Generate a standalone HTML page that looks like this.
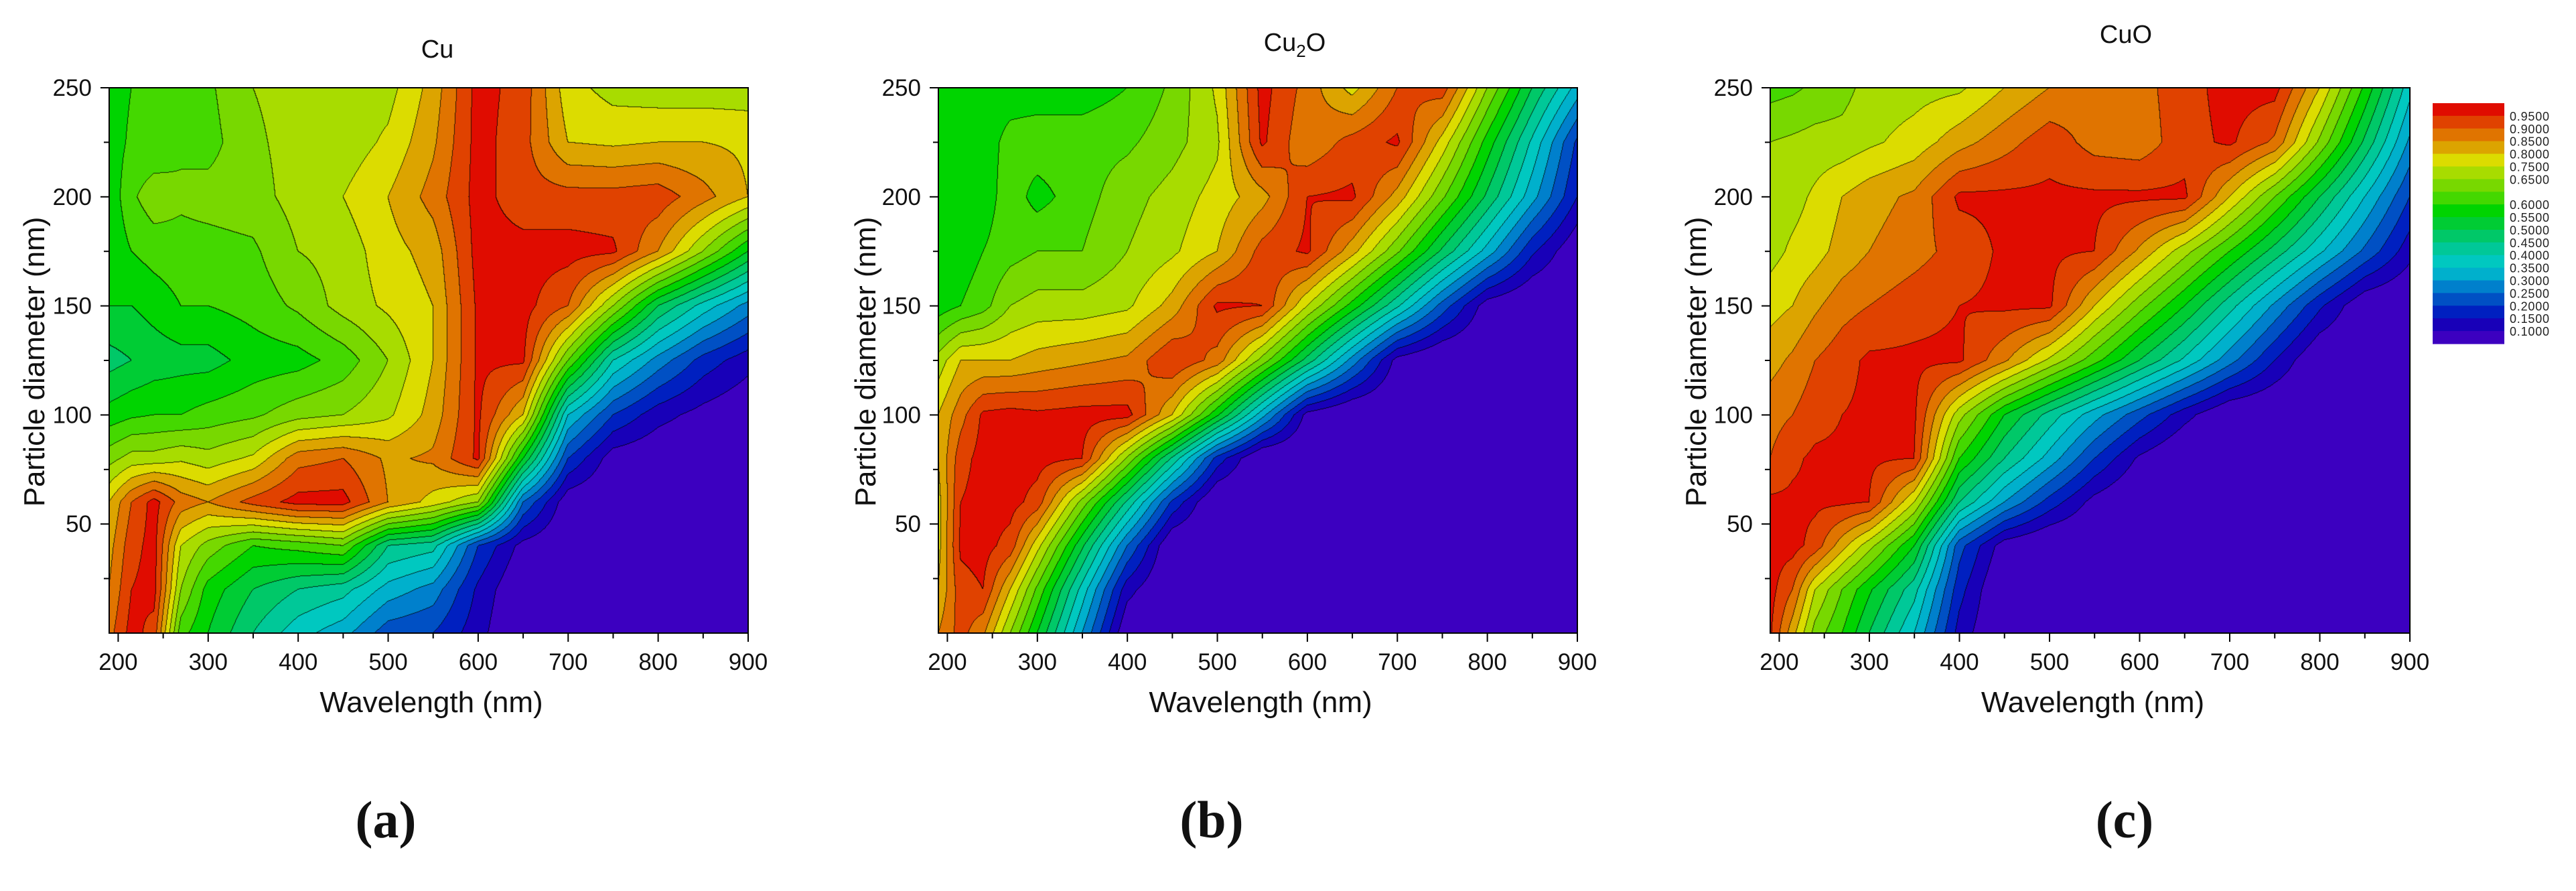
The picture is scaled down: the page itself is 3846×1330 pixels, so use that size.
<!DOCTYPE html>
<html><head><meta charset="utf-8"><style>
html,body{margin:0;padding:0;background:#fff;}
body{width:3846px;height:1330px;position:relative;overflow:hidden;font-family:"Liberation Sans",sans-serif;}
canvas{position:absolute;}
svg{position:absolute;left:0;top:0;}
</style></head><body>
<div id="root"></div>
<svg id="ov" width="3846" height="1330"></svg>
<script>
const WAVELENGTHS=[190,215,240,270,300,350,400,450,500,550,600,650,700,750,800,850,900];
const DIAMETERS=[250,225,200,175,150,125,100,80,60,40,20,0];
const LEVEL_LABELS=["0.9500","0.9000","0.8500","0.8000","0.7500","0.6500","","0.6000","0.5500","0.5000","0.4500","0.4000","0.3500","0.3000","0.2500","0.2000","0.1500","0.1000"];
const X_TICKS=[200,300,400,500,600,700,800,900];
const Y_TICKS=[50,100,150,200,250];
const CU_VALUES=[
[.57,.60,.62,.63,.64,.70,.72,.72,.73,.82,.97,.93,.77,.73,.72,.72,.72],
[.57,.61,.61,.64,.63,.69,.72,.72,.76,.84,.97,.92,.80,.79,.80,.80,.79],
[.56,.64,.68,.66,.67,.68,.72,.75,.80,.87,.97,.92,.92,.92,.93,.87,.80],
[.56,.60,.62,.63,.63,.64,.70,.72,.78,.82,.97,.97,.97,.96,.85,.70,.55],
[.55,.55,.57,.60,.60,.62,.66,.72,.76,.80,.96,.97,.90,.70,.50,.38,.28],
[.48,.50,.52,.53,.53,.57,.58,.62,.70,.80,.96,.96,.65,.40,.28,.18,.12],
[.57,.59,.60,.60,.62,.64,.68,.70,.74,.82,.96,.80,.35,.20,.12,.08,.05],
[.68,.72,.72,.74,.72,.76,.88,.90,.84,.86,.96,.55,.20,.07,.05,.04,.03],
[.80,.90,.97,.88,.85,.92,.97,.97,.85,.78,.70,.25,.06,.04,.03,.03,.03],
[.83,.93,.97,.75,.68,.60,.62,.65,.45,.42,.20,.08,.04,.03,.03,.03,.03],
[.85,.95,.97,.70,.58,.50,.45,.42,.33,.28,.14,.04,.03,.03,.03,.03,.03],
[.88,.97,.93,.62,.55,.45,.37,.32,.22,.20,.12,.03,.03,.03,.03,.03,.03]];
const CU2O_VALUES=[
[.56,.56,.57,.57,.57,.57,.60,.66,.76,.97,.88,.78,.90,.93,.70,.50,.33],
[.56,.57,.57,.62,.63,.63,.64,.68,.74,.96,.86,.92,.96,.78,.58,.39,.19],
[.57,.57,.57,.63,.58,.63,.68,.72,.77,.83,.95,.96,.83,.66,.49,.32,.15],
[.57,.57,.60,.63,.65,.65,.70,.74,.80,.92,.96,.82,.66,.49,.33,.16,.05],
[.57,.60,.63,.70,.72,.72,.74,.82,.96,.95,.75,.58,.41,.23,.07,.03,.03],
[.72,.80,.80,.80,.82,.84,.86,.95,.88,.68,.48,.28,.08,.03,.03,.03,.03],
[.80,.88,.96,.97,.96,.97,.97,.80,.56,.32,.08,.03,.03,.03,.03,.03,.03],
[.80,.93,.97,.97,.97,.95,.69,.44,.18,.03,.03,.03,.03,.03,.03,.03,.03],
[.78,.95,.97,.97,.93,.68,.44,.19,.03,.03,.03,.03,.03,.03,.03,.03,.03],
[.78,.96,.97,.93,.77,.51,.25,.04,.03,.03,.03,.03,.03,.03,.03,.03,.03],
[.80,.93,.95,.80,.64,.38,.12,.03,.03,.03,.03,.03,.03,.03,.03,.03,.03],
[.85,.92,.86,.70,.55,.30,.05,.03,.03,.03,.03,.03,.03,.03,.03,.03,.03]];
const CUO_VALUES=[
[.63,.64,.66,.68,.72,.73,.74,.80,.85,.88,.88,.93,.97,.97,.80,.59,.37],
[.70,.71,.72,.72,.74,.77,.83,.88,.93,.88,.87,.93,.96,.89,.69,.49,.29],
[.72,.73,.76,.80,.83,.86,.96,.96,.96,.96,.96,.96,.80,.65,.50,.35,.20],
[.73,.76,.78,.82,.85,.88,.92,.96,.96,.95,.84,.72,.60,.48,.36,.24,.12],
[.78,.80,.84,.88,.90,.93,.95,.96,.96,.80,.67,.55,.42,.29,.16,.05,.03],
[.83,.86,.90,.93,.96,.96,.96,.86,.74,.62,.50,.39,.27,.15,.04,.03,.03],
[.88,.90,.93,.95,.96,.96,.72,.55,.43,.32,.22,.12,.04,.03,.03,.03,.03],
[.90,.94,.96,.96,.96,.95,.60,.45,.33,.20,.09,.03,.03,.03,.03,.03,.03],
[.96,.96,.96,.96,.95,.75,.45,.30,.18,.08,.03,.03,.03,.03,.03,.03,.03],
[.97,.97,.93,.82,.72,.55,.22,.07,.03,.03,.03,.03,.03,.03,.03,.03,.03],
[.97,.90,.75,.65,.56,.42,.17,.03,.03,.03,.03,.03,.03,.03,.03,.03,.03],
[.96,.82,.68,.60,.50,.35,.13,.03,.03,.03,.03,.03,.03,.03,.03,.03,.03]];
// band colours, lowest (<0.10) to highest (>0.95)
const BAND_COLORS=["#3c00c0","#1800b8","#0020c0","#0050c4","#0080cc","#00b0cc","#00c8c0","#00c898","#00c868","#00cc34","#00d400","#44d800","#78d800","#a8dc00","#dcdc00","#dca400","#e07400","#e04200","#e00c00"];

const PANELS=[
 {name:"cu",values:CU_VALUES,left:163,width:954,title:"Cu",tx:653,ty:72,label:"(a)",lx:576,ytx:51},
 {name:"cu2o",values:CU2O_VALUES,left:1401,width:954,title:"Cu2O",tx:1933,ty:62,label:"(b)",lx:1809,ytx:1292},
 {name:"cuo",values:CUO_VALUES,left:2643,width:955,title:"CuO",tx:3174,ty:50,label:"(c)",lx:3172,ytx:2532}
];
const TOP=131,H=814,XMIN=190,XMAX=900,YMIN=0,YMAX=250;
const NS="http://www.w3.org/2000/svg";
const ov=document.getElementById('ov');
function hex(c){return [parseInt(c.substr(1,2),16),parseInt(c.substr(3,2),16),parseInt(c.substr(5,2),16)];}
const RGB=BAND_COLORS.map(hex);
function bandOf(v){if(v<0.1)return 0;let b=Math.floor((v-0.1)/0.05+1e-9)+1;return Math.min(18,b);}
function interp(vals,lam,d){
 let i=0;while(i<WAVELENGTHS.length-2&&lam>WAVELENGTHS[i+1])i++;
 let tx=(lam-WAVELENGTHS[i])/(WAVELENGTHS[i+1]-WAVELENGTHS[i]);tx=Math.max(0,Math.min(1,tx));
 let j=0;while(j<DIAMETERS.length-2&&d<DIAMETERS[j+1])j++;
 let ty=(DIAMETERS[j]-d)/(DIAMETERS[j]-DIAMETERS[j+1]);ty=Math.max(0,Math.min(1,ty));
 const a=vals[j][i],b=vals[j][i+1],c=vals[j+1][i],e=vals[j+1][i+1];
 return (a*(1-tx)+b*tx)*(1-ty)+(c*(1-tx)+e*tx)*ty;
}
function mk(tag,attrs,parent){const el=document.createElementNS(NS,tag);for(const k in attrs)el.setAttribute(k,attrs[k]);(parent||ov).appendChild(el);return el;}

PANELS.forEach(p=>{
 const W=p.width;
 const sx=l=>p.left+(l-XMIN)/(XMAX-XMIN)*W;
 const sy=d=>TOP+H-(d-YMIN)/(YMAX-YMIN)*H;
 const cv=document.createElement('canvas');
 
 
 cv.width=W;cv.height=H;cv.style.left=p.left+'px';cv.style.top=TOP+'px';
 document.body.insertBefore(cv,ov);
 const ctx=cv.getContext('2d');const img=ctx.createImageData(W,H);
 const bands=new Uint8Array(W*H);
 for(let y=0;y<H;y++){const d=YMAX-(y+0.5)/H*(YMAX-YMIN);
  for(let x=0;x<W;x++){const l=XMIN+(x+0.5)/W*(XMAX-XMIN);bands[y*W+x]=bandOf(interp(p.values,l,d));}}
 for(let y=0;y<H;y++)for(let x=0;x<W;x++){
  const b=bands[y*W+x];let c=RGB[b];
  let edge=(x<W-1&&bands[y*W+x+1]!==b)||(y<H-1&&bands[(y+1)*W+x]!==b);
  const k=(y*W+x)*4;
  if(edge){img.data[k]=c[0]*0.2;img.data[k+1]=c[1]*0.2;img.data[k+2]=c[2]*0.2;}
  else{img.data[k]=c[0];img.data[k+1]=c[1];img.data[k+2]=c[2];}
  img.data[k+3]=255;}
 ctx.putImageData(img,0,0);
 const g=mk('g',{});
 
 
 const fr=mk('rect',{x:p.left,y:TOP,width:W,height:H,fill:'none',stroke:'#000','stroke-width':2},g);
 
 
 for(let v=200;v<=900;v+=50){const X=sx(v);const major=v%100===0;
  mk('line',{x1:X,x2:X,y1:TOP+H,y2:TOP+H+(major?13:8),stroke:'#000','stroke-width':2},g);}
 X_TICKS.forEach(v=>{const t=mk('text',{x:sx(v),y:1000,'text-anchor':'middle','font-size':35,fill:'#111'},g);t.textContent=v;
  
  });
 for(let v=25;v<=250;v+=25){const Y=sy(v);const major=v%50===0;
  mk('line',{x1:p.left,x2:p.left-(major?13:8),y1:Y,y2:Y,stroke:'#000','stroke-width':2},g);}
 Y_TICKS.forEach(v=>{const t=mk('text',{x:p.left-26,y:sy(v)+12,'text-anchor':'end','font-size':35,fill:'#111'},g);t.textContent=v;
  
  });
 const xt=mk('text',{x:p.left+W/2+4,y:1063,'text-anchor':'middle','font-size':44,fill:'#111'},g);xt.textContent='Wavelength (nm)';
 
 
 const yt=mk('text',{x:0,y:0,'text-anchor':'middle','font-size':44,fill:'#111',transform:`translate(${p.ytx+15},${TOP+H/2+2}) rotate(-90)`},g);yt.textContent='Particle diameter (nm)';
 
 
 const tt=mk('text',{x:p.tx,y:p.ty+14,'text-anchor':'middle','font-size':38,fill:'#111'},g);
 
 
 if(p.title==='Cu2O'){tt.appendChild(document.createTextNode('Cu'));const s=document.createElementNS(NS,'tspan');s.setAttribute('font-size','26');s.setAttribute('dy','9');s.textContent='2';tt.appendChild(s);const o=document.createElementNS(NS,'tspan');o.setAttribute('dy','-9');o.textContent='O';tt.appendChild(o);}
 else tt.textContent=p.title;
 const pl=mk('text',{x:p.lx,y:1250,'text-anchor':'middle','font-size':78,'font-family':'Liberation Serif, serif','font-weight':'bold',fill:'#111'},g);pl.textContent=p.label;
 
 
});
// legend
const lg=mk('g',{});


const LX=3632,LW=107,LT=154,LH=359,BH=LH/19;
for(let i=0;i<19;i++){const r=mk('rect',{x:LX,y:LT+i*BH,width:LW,height:BH+0.6,fill:BAND_COLORS[18-i]},lg);
 
 }
LEVEL_LABELS.forEach((s,i)=>{if(!s)return;const t=mk('text',{x:3747,y:LT+(i+1)*BH+7,'font-size':18,'letter-spacing':0.8,fill:'#222'},lg);t.textContent=s;
 
 });
</script>
</body></html>
